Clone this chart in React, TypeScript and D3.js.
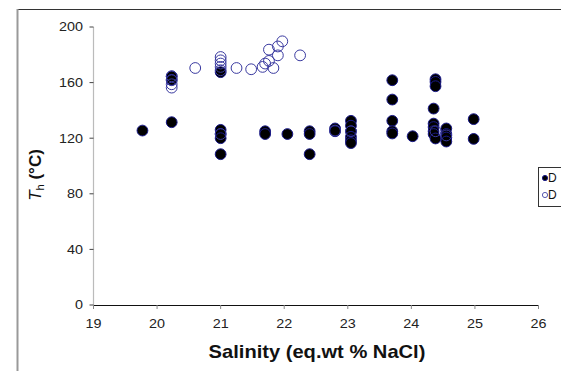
import React from "react";
import * as d3 from "d3";

const filledX = [19.77, 20.23, 20.23, 20.23, 21.0, 21.0, 21.0, 21.0, 21.0, 21.7, 21.7, 22.05, 22.4, 22.4, 22.4, 22.8, 22.8, 23.05, 23.05, 23.05, 23.05, 23.05, 23.05, 23.7, 23.7, 23.7, 23.7, 23.7, 24.02, 24.35, 24.35, 24.35, 24.35, 24.35, 24.38, 24.38, 24.38, 24.38, 24.55, 24.55, 24.55, 24.55, 24.98, 24.98];
const filledY = [125.5, 131.5, 164.5, 162, 126, 123, 120, 108.5, 167.5, 125, 123, 123, 125, 123, 108.5, 127, 125, 132.5, 129, 125, 121, 118.5, 116.5, 161.7, 147.8, 132.5, 125, 123.4, 121.4, 141.3, 130.5, 128, 125, 123, 162.4, 160.5, 157.4, 119.8, 127, 123, 120.5, 117.6, 133.7, 119.5];

const openX = [20.23, 20.23, 20.23, 20.23, 20.6, 21.0, 21.0, 21.0, 21.0, 21.0, 21.25, 21.48, 21.66, 21.7, 21.76, 21.76, 21.83, 21.9, 21.9, 21.97, 22.25, 21.0, 22.8, 23.05, 24.38, 24.55];
const openY = [164.5, 161.7, 158.8, 156.4, 170.5, 178.4, 176, 173.7, 171.3, 168.9, 170.5, 169.6, 171.3, 173.7, 175.6, 183.7, 170.5, 179.6, 186, 189.7, 179.6, 123, 125.5, 125, 125, 122];

const xTicks = [19, 20, 21, 22, 23, 24, 25, 26];
const yTicks = [0, 40, 80, 120, 160, 200];
const legendLabels = ["D", "D"];

export default function App() {
  const x = d3.scaleLinear().domain([19, 26]).range([93.5, 538.5]);
  const y = d3.scaleLinear().domain([0, 200]).range([305, 27]);
  const font = "Arial, 'Liberation Sans', sans-serif";
  const filled = d3.zip(filledX, filledY);
  const open = d3.zip(openX, openY);
  const sx = 1.15;
  return (
    <svg width={561} height={371} style={{ position: "absolute", left: 0, top: 0, background: "#fff" }} fontFamily={font}>
      <rect x={0} y={0} width={561} height={371} fill="#fff" />
      {/* frame */}
      <line x1={17} y1={9.5} x2={561} y2={9.5} stroke="#333" strokeWidth={1} />
      <line x1={17.5} y1={9} x2={17.5} y2={371} stroke="#999" strokeWidth={2} />
      {/* y axis */}
      <line x1={x(19)} y1={y(200)} x2={x(19)} y2={y(0)} stroke="#bbb" strokeWidth={1.2} />
      {yTicks.map((t) => (
        <g key={"yt" + t}>
          <line x1={x(19) - 4} x2={x(19)} y1={y(t)} y2={y(t)} stroke="#444" />
          <g transform={`translate(83,${y(t)}) scale(${sx},1)`}>
            <text x={0} y={0} dy="0.35em" textAnchor="end" fontSize={12.5} fill="#222">{t}</text>
          </g>
        </g>
      ))}
      {/* x axis */}
      <line x1={x(19)} y1={y(0) + 0.5} x2={x(26)} y2={y(0) + 0.5} stroke="#111" strokeWidth={1.2} />
      {xTicks.map((t) => (
        <g key={"xt" + t}>
          <line x1={x(t)} x2={x(t)} y1={y(0)} y2={y(0) + 4} stroke="#888" />
          <g transform={`translate(${x(t)},328) scale(${sx},1)`}>
            <text x={0} y={0} textAnchor="middle" fontSize={12.5} fill="#222">{t}</text>
          </g>
        </g>
      ))}
      <g transform={`translate(317,358) scale(${sx},1)`}>
        <text x={0} y={0} textAnchor="middle" fontSize={17.5} fontWeight="bold" fill="#111">Salinity (eq.wt % NaCl)</text>
      </g>
      <text transform="translate(41,175) rotate(-90)" textAnchor="middle" fontSize={17} fill="#111">
        <tspan fontStyle="italic">T</tspan>
        <tspan fontSize={11} dy={3}>h</tspan>
        <tspan dy={-3} fontWeight="bold"> (°C)</tspan>
      </text>
      {/* series */}
      {filled.map(([a, b], i) => (
        <circle key={"f" + i} cx={x(a)} cy={y(b)} r={5.4} fill="#000" stroke="#1a1a8a" strokeWidth={1} />
      ))}
      {open.map(([a, b], i) => (
        <circle key={"o" + i} cx={x(a)} cy={y(b)} r={5.4} fill="none" stroke="#3a3aa0" strokeWidth={1} />
      ))}
      {/* legend */}
      <rect x={538.5} y={167.5} width={30} height={39} fill="#fff" stroke="#333" strokeWidth={1} />
      <circle cx={545} cy={178} r={2.6} fill="#000" stroke="#1a1a8a" />
      <text x={548} y={178} dy="0.35em" fontSize={12} fill="#111">{legendLabels[0]}</text>
      <circle cx={545} cy={195} r={2.6} fill="none" stroke="#5a5ab0" />
      <text x={548} y={195} dy="0.35em" fontSize={12} fill="#111">{legendLabels[1]}</text>
    </svg>
  );
}
